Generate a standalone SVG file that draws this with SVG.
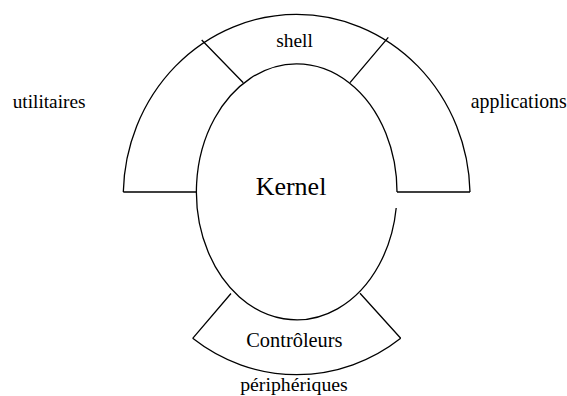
<svg xmlns="http://www.w3.org/2000/svg" width="567" height="396" viewBox="0 0 567 396">
<style>
.ln{fill:none;stroke:#000;stroke-width:1.3}
.t{font-family:"Liberation Serif","Times New Roman",serif;fill:#000}
</style>
<rect width="567" height="396" fill="#fff"/>
<g id="outer-ring">
<path class="ln" d="M123.3,192 A173.4 182 0 0 1 470,192"/>
<path class="ln" d="M123.3,192 H196.5 M397,192 H470"/>
</g>
<g id="kernel">
<path class="ln" d="M397,192 A100.3 128 0 1 0 396.2,208"/>
<text class="t" x="291" y="195" font-size="26" text-anchor="middle">Kernel</text>
</g>
<g id="shell">
<text class="t" x="294.5" y="46.7" font-size="19.4" text-anchor="middle">shell</text>
</g>
<g id="utilitaires">
<text class="t" x="12.7" y="108" font-size="19.3">utilitaires</text>
</g>
<g id="applications">
<text class="t" x="470.7" y="108" font-size="19.9">applications</text>
</g>
<g id="controleurs">
<path class="ln" d="M192.7,338.3 A173.4 182 0 0 0 400.7,338.3"/>
<text class="t" x="294.4" y="346.7" font-size="20.4" text-anchor="middle">Contrôleurs</text>
<text class="t" x="294" y="390.5" font-size="19.8" text-anchor="middle">périphériques</text>
</g>
<g id="connectors">
<path class="ln" d="M201.7,40 L243.3,82.7 M388.3,37.3 L350,82.7 M231,293.5 L192.7,338.3 M360,293.3 L400.7,338.3"/>
</g>
</svg>
